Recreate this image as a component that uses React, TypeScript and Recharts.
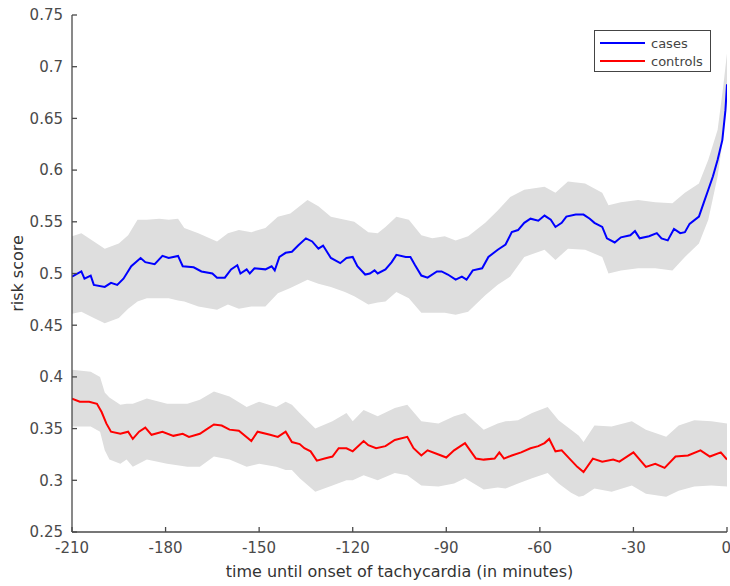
import { ComposedChart, Area, Line, XAxis, YAxis, Legend } from "recharts";

// cases: mean risk score
const caseT = [
  -210, -207, -206, -204, -203, -199.5, -197.5, -195.5, -193.5, -191, -188, -186.5, -183.5, -181, -179, -176,
  -174.5, -171, -168.5, -165, -163.5, -161, -159, -157, -156, -154, -153, -151.5, -148, -146, -145, -143.5,
  -141.5, -139.5, -137.5, -135, -133, -131, -129.5, -127, -124, -122, -120, -118.5, -116, -114.5, -113, -112,
  -109.5, -107.5, -106, -103, -101.5, -100, -98, -96, -93, -91.5, -89.5, -87, -85, -83.5, -81.5, -78.5, -76.5,
  -73.5, -71, -69, -67, -65, -63, -60.5, -58.5, -56.5, -55, -53, -51.5, -48.5, -46, -44, -42.5, -40, -38.5, -36,
  -34, -31, -29.5, -28, -25, -22.5, -21, -19, -17, -15, -13.5, -12, -9, -7.5, -6, -4.5, -3, -1.5, -0.5, 0,
];
const caseMean = [
  0.497, 0.502, 0.495, 0.498, 0.489, 0.487, 0.491, 0.489, 0.495, 0.507, 0.515, 0.511, 0.509, 0.517, 0.515, 0.517,
  0.507, 0.506, 0.502, 0.5, 0.496, 0.496, 0.504, 0.508, 0.5, 0.504, 0.5, 0.505, 0.504, 0.507, 0.503, 0.516,
  0.52, 0.521, 0.527, 0.534, 0.531, 0.524, 0.527, 0.515, 0.51, 0.515, 0.516, 0.507, 0.499, 0.5, 0.503, 0.5,
  0.504, 0.511, 0.518, 0.516, 0.516, 0.508, 0.498, 0.496, 0.502, 0.502, 0.499, 0.494, 0.497, 0.494, 0.503, 0.505, 0.516,
  0.523, 0.528, 0.54, 0.542, 0.549, 0.553, 0.551, 0.556, 0.552, 0.545, 0.549, 0.555, 0.557, 0.557, 0.553, 0.549, 0.545, 0.534, 0.53,
  0.535, 0.537, 0.541, 0.534, 0.536, 0.539, 0.534, 0.532, 0.543, 0.539, 0.54, 0.548, 0.555, 0.568, 0.581, 0.594, 0.61, 0.629, 0.658, 0.683,
];

// cases: confidence band
const caseBandT = [
  -210, -207, -203, -199.5, -195, -192, -189, -186, -182, -179, -176, -174, -169.5, -163.5, -160, -156.5, -152.5,
  -148, -144, -140, -134.5, -131, -127, -122.5, -119.5, -115, -112, -109.5, -106, -102, -98, -94.5, -90.5, -87,
  -83, -77.5, -73.5, -69.5, -65, -58.5, -55, -51, -45.5, -40, -38, -34, -28.5, -23, -17.5, -13.5, -9, -6, -3, -1.2, 0,
];
const caseLo = [
  0.461, 0.463, 0.457, 0.452, 0.457, 0.466, 0.473, 0.476, 0.476, 0.476, 0.474, 0.473, 0.468, 0.465, 0.47, 0.466, 0.468,
  0.468, 0.481, 0.486, 0.494, 0.49, 0.487, 0.482, 0.478, 0.47, 0.472, 0.473, 0.482, 0.476, 0.462, 0.462, 0.462, 0.46,
  0.463, 0.479, 0.489, 0.497, 0.516, 0.523, 0.513, 0.524, 0.523, 0.516, 0.5, 0.503, 0.505, 0.505, 0.503, 0.516, 0.529, 0.552, 0.594, 0.632, 0.665,
];
const caseHi = [
  0.536, 0.539, 0.531, 0.524, 0.529, 0.537, 0.552, 0.552, 0.553, 0.552, 0.553, 0.544, 0.539, 0.531, 0.539, 0.542, 0.54,
  0.544, 0.555, 0.558, 0.571, 0.565, 0.555, 0.552, 0.55, 0.54, 0.539, 0.545, 0.555, 0.552, 0.537, 0.534, 0.536, 0.532,
  0.536, 0.549, 0.561, 0.574, 0.581, 0.584, 0.578, 0.589, 0.587, 0.578, 0.566, 0.569, 0.571, 0.569, 0.568, 0.578, 0.587, 0.61, 0.639, 0.681, 0.713,
];

// controls: mean risk score
const ctrlT = [
  -210, -207.5, -204.5, -202, -200.5, -199, -197.5, -194.5, -192, -190.5, -188.5, -186.5, -184.5, -181, -177.5,
  -174.5, -172.5, -169, -167, -164.5, -162, -159.5, -156.5, -152.5, -150.5, -146.5, -144, -141.5, -139.5, -137,
  -135.5, -133.5, -131.5, -129, -126.5, -124.5, -122, -120, -116.5, -115, -112.5, -109.5, -106.5, -102.5, -100.5,
  -98, -96, -92.5, -90, -87.5, -84, -80.5, -78, -74.5, -73, -71.5, -69, -66, -63, -60.5, -58.5, -57, -55, -53,
  -50.5, -48, -46, -43, -40, -36.5, -34.5, -30, -26, -23, -20, -16.5, -12.5, -8.5, -5.5, -2, 0,
];
const ctrlMean = [
  0.379, 0.376, 0.376, 0.374, 0.366, 0.355, 0.347, 0.345, 0.347, 0.34, 0.347, 0.351, 0.344, 0.347, 0.343,
  0.345, 0.342, 0.345, 0.349, 0.354, 0.353, 0.349, 0.348, 0.338, 0.347, 0.344, 0.342, 0.347, 0.337, 0.335,
  0.331, 0.328, 0.319, 0.321, 0.323, 0.331, 0.331, 0.328, 0.338, 0.334, 0.331, 0.333, 0.339, 0.342, 0.331,
  0.324, 0.329, 0.325, 0.322, 0.329, 0.336, 0.321, 0.32, 0.321, 0.327, 0.321, 0.324, 0.327, 0.331, 0.333, 0.336, 0.34, 0.328, 0.329,
  0.321, 0.313, 0.308, 0.321, 0.318, 0.32, 0.318, 0.327, 0.313, 0.316, 0.312, 0.323, 0.324, 0.329, 0.323, 0.327, 0.32,
];

// controls: confidence band
const ctrlBandT = [
  -210, -204, -201, -199.5, -198, -194.5, -192.5, -190.5, -186, -179.5, -173, -169, -164.5, -159.5, -154, -150,
  -144.5, -141.5, -139.5, -137, -132, -126.5, -122, -120, -116.5, -112, -106.5, -102.5, -98, -92.5, -87.5, -84,
  -78, -73.5, -71, -67, -62.5, -57.5, -54, -50, -47.5, -46, -42.5, -37, -30.5, -26, -19.5, -15.5, -10.5, -5, 0,
];
const ctrlLo = [
  0.352, 0.352, 0.347, 0.329, 0.32, 0.316, 0.32, 0.313, 0.32, 0.316, 0.313, 0.313, 0.323, 0.32, 0.313, 0.316,
  0.313, 0.31, 0.31, 0.302, 0.289, 0.295, 0.3, 0.3, 0.305, 0.3, 0.307, 0.305, 0.295, 0.294, 0.297, 0.302,
  0.291, 0.293, 0.292, 0.297, 0.302, 0.307, 0.297, 0.288, 0.284, 0.285, 0.292, 0.289, 0.295, 0.287, 0.284, 0.29, 0.294, 0.295, 0.294,
];
const ctrlHi = [
  0.407, 0.405, 0.4, 0.385, 0.38, 0.373, 0.374, 0.374, 0.379, 0.374, 0.374, 0.378, 0.386, 0.381, 0.371, 0.376,
  0.371, 0.376, 0.373, 0.365, 0.35, 0.357, 0.365, 0.357, 0.368, 0.362, 0.37, 0.373, 0.357, 0.355, 0.362, 0.365,
  0.349, 0.355, 0.357, 0.358, 0.365, 0.371, 0.358, 0.349, 0.343, 0.337, 0.353, 0.352, 0.357, 0.349, 0.342, 0.353, 0.358, 0.357, 0.355,
];

const xTicks = [-210, -180, -150, -120, -90, -60, -30, 0];
const yTicks = [0.25, 0.3, 0.35, 0.4, 0.45, 0.5, 0.55, 0.6, 0.65, 0.7, 0.75];

const caseLine = caseT.map((t, i) => ({ t, v: caseMean[i] }));
const caseBand = caseBandT.map((t, i) => ({ t, range: [caseLo[i], caseHi[i]] }));
const ctrlLine = ctrlT.map((t, i) => ({ t, v: ctrlMean[i] }));
const ctrlBand = ctrlBandT.map((t, i) => ({ t, range: [ctrlLo[i], ctrlHi[i]] }));

const font = "'DejaVu Sans', sans-serif";
const axisColor = "#4a4a4a";
const tickStyle = { fontSize: 15, fill: "#4a4a4a", fontFamily: font };

function LegendBox() {
  const rows = [
    { name: "cases", color: "#0000ff" },
    { name: "controls", color: "#ff0000" },
  ];
  return (
    <div
      style={{
        border: "1px solid #444",
        background: "#fff",
        width: 115,
        height: 40,
        boxSizing: "content-box",
        fontFamily: font,
        fontSize: 13,
        color: "#444",
      }}
    >
      {rows.map((r) => (
        <div key={r.name} style={{ display: "flex", alignItems: "center", height: 18, marginTop: r.name === "cases" ? 3 : 0 }}>
          <div style={{ width: 45, height: 2.5, background: r.color, marginLeft: 5, marginRight: 6 }} />
          <span>{r.name}</span>
        </div>
      ))}
    </div>
  );
}

export default function App() {
  return (
    <div style={{ position: "fixed", left: 0, top: 0, width: 730, height: 586, background: "#fff" }}>
      <ComposedChart width={730} height={586} margin={{ top: 15, right: 3, bottom: 0, left: 0 }}>
        <XAxis
          dataKey="t"
          type="number"
          domain={[-210, 0]}
          ticks={xTicks}
          allowDataOverflow
          height={54}
          tickSize={-5}
          tickMargin={15}
          stroke={axisColor}
          strokeWidth={1.3}
          tick={tickStyle}
          label={{
            content: ({ viewBox }: any) => (
              <text
                x={viewBox.x + viewBox.width / 2}
                y={577}
                textAnchor="middle"
                fontSize={16}
                fontFamily={font}
                fill="#333"
              >
                time until onset of tachycardia (in minutes)
              </text>
            ),
          }}
        />
        <YAxis
          type="number"
          domain={[0.25, 0.75]}
          ticks={yTicks}
          allowDataOverflow
          width={72}
          tickSize={-5}
          tickMargin={14}
          stroke={axisColor}
          strokeWidth={1.3}
          tick={tickStyle}
          tickFormatter={(v: number) => String(Number(v.toFixed(2)))}
          label={{
            content: ({ viewBox }: any) => (
              <text
                x={0}
                y={0}
                transform={`translate(23, ${viewBox.y + viewBox.height / 2}) rotate(-90)`}
                textAnchor="middle"
                fontSize={16}
                fontFamily={font}
                fill="#333"
              >
                risk score
              </text>
            ),
          }}
        />
        <Area data={caseBand} dataKey="range" type="linear" fill="#dedede" fillOpacity={1} stroke="none" isAnimationActive={false} legendType="none" />
        <Area data={ctrlBand} dataKey="range" type="linear" fill="#dedede" fillOpacity={1} stroke="none" isAnimationActive={false} legendType="none" />
        <Line data={caseLine} dataKey="v" name="cases" type="linear" stroke="#0000ff" strokeWidth={2} dot={false} isAnimationActive={false} />
        <Line data={ctrlLine} dataKey="v" name="controls" type="linear" stroke="#ff0000" strokeWidth={2} dot={false} isAnimationActive={false} />
        <Legend
          layout="horizontal"
          verticalAlign="middle"
          align="center"
          wrapperStyle={{ left: 594, top: 30, width: 117, height: 42 }}
          content={() => <LegendBox />}
        />
      </ComposedChart>
    </div>
  );
}
